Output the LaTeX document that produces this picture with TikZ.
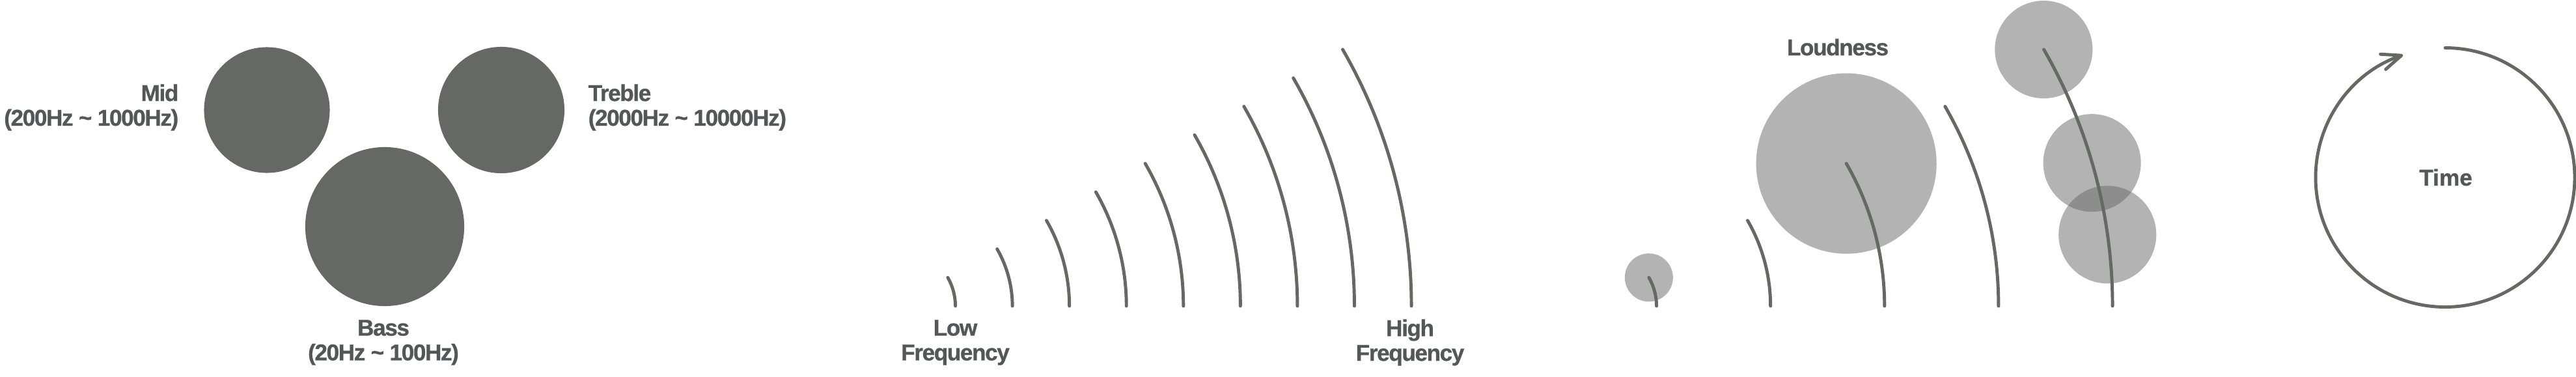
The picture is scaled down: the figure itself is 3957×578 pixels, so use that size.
\documentclass[tikz,border=0pt]{standalone}
\usepackage{fontspec}
\setmainfont{Liberation Sans}
\newfontfamily\tagfont[LetterSpace=-4, BoldFeatures={FakeBold=0.8}]{Liberation Sans}
\newfontfamily\timefont[BoldFeatures={FakeBold=0.8}]{Liberation Sans}
\usetikzlibrary{arrows.meta, positioning, calc}
\definecolor{ink}{RGB}{102,104,102}
\definecolor{lbl}{RGB}{85,86,88}
\tikzset{%
   % solid frequency bands
   band/.style={
      circle,
      fill=ink,
      inner sep=0pt,
      outer sep=0pt
   },
   % see-through loudness blobs
   blob/.style={
      circle,
      fill=ink,
      fill opacity=.5,
      inner sep=0pt,
      outer sep=0pt
   },
   wave/.style={
      draw=ink,
      line width=1.4pt,
      line cap=round
   },
   tag/.style={
      text=lbl,
      inner sep=0pt,
      font=\tagfont\bfseries\fontsize{10}{10.8}\selectfont
   },
}

\begin{document}
\begin{tikzpicture}[x=0.01cm, y=0.01cm]
    \useasboundingbox (0,0) rectangle (3957,578);
    % bands
    \node[band, minimum size=1.93cm] (mid) at (410,409) {};
    \node[band, minimum size=1.94cm] (treble) at (770,409) {};
    \node[band, minimum size=2.44cm] (bass) at (591,230) {};
    \node[tag, align=right, anchor=east] (midl) at (275,413) {Mid\\(200Hz \textasciitilde{} 1000Hz)};
    \node[tag, align=left, anchor=west] (treblel) at (903,413) {Treble\\(2000Hz \textasciitilde{} 10000Hz)};
    \node[tag, align=center] (bassl) at (589,52) {Bass\\(20Hz \textasciitilde{} 100Hz)};
    % frequency
    \coordinate (fq) at (1380,108);
    \foreach \k in {1,...,9}
       \draw[wave] (fq) ++(87.56*\k,0) arc[start angle=0, end angle=30, radius=87.56*\k];
    \node[tag, align=center] (low) at (1467.5,52) {Low\\Frequency};
    \node[tag, align=center] (high) at (2166,52) {High\\Frequency};
    % loudness
    \coordinate (ld) at (2457,108);
    \node[blob, minimum size=0.74cm] (soft) at ($(ld)+(30:87.56)$) {};
    \node[blob, minimum size=2.77cm] (loud) at ($(ld)+(30:437.8)$) {};
    \node[blob, minimum size=1.5cm] (p1) at ($(ld)+(30:787.9)$) {};
    \node[blob, minimum size=1.5cm] (p2) at ($(ld)+(16.2:787.9)$) {};
    \node[blob, minimum size=1.5cm] (p3) at ($(ld)+(8:787.9)$) {};
    \foreach \k in {1,3,5,7,9}
       \draw[wave] (ld) ++(87.56*\k,0) arc[start angle=0, end angle=30, radius=87.56*\k];
    \node[tag, anchor=base] (loudl) at (2823,493) {Loudness};
    % time
    \coordinate (clk) at (3756,305.5);
    \draw[wave, -{Straight Barb[length=8.5pt, width=7pt, round]}] (clk) ++(90:199)
       arc[start angle=90, end angle=-251, radius=199];
    \node[tag, anchor=base, font=\timefont\bfseries\fontsize{10}{10.8}\selectfont] (time) at (3757,293) {Time};
\end{tikzpicture}
\end{document}
